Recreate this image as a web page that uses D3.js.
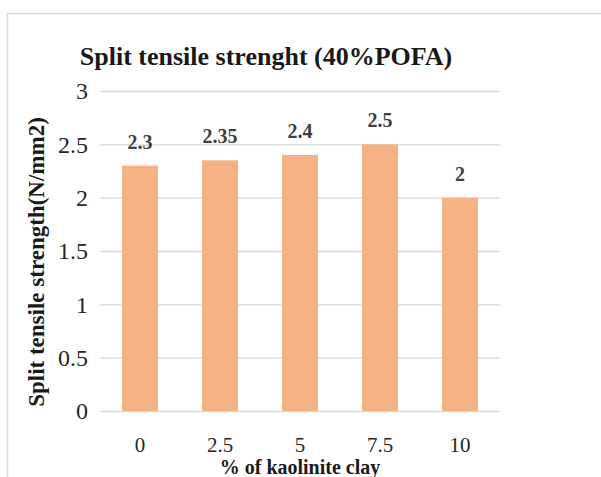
<!DOCTYPE html>
<html><head><meta charset="utf-8">
<script src="https://cdn.jsdelivr.net/npm/d3@7"></script>
<style>body{margin:0;background:#fff}svg{display:block}svg text{font-family:"Liberation Serif","DejaVu Serif",serif !important}</style>
</head><body>
<script>
const categories = ["0","2.5","5","7.5","10"];
const values = [2.3,2.35,2.4,2.5,2];
const yTicks = [0,0.5,1,1.5,2,2.5,3];
const title = "Split tensile strenght (40%POFA)";
const xTitle = "% of kaolinite clay";
const yTitle = "Split tensile strength(N/mm2)";

const W=601,H=477;
const svg = d3.select("body").append("svg").attr("width",W).attr("height",H);
svg.append("path").attr("d",`M7.5,${H} V13.5 H${W}`).attr("fill","none").attr("stroke","#d9d9d9").attr("stroke-width",1.5);

const x = d3.scaleBand().domain(categories).range([100,500]).paddingInner(0.55).paddingOuter(0.275);
const y = d3.scaleLinear().domain([0,3]).range([411,91]);

const ga = svg.append("g").attr("transform","translate(100,0)")
  .call(d3.axisLeft(y).tickValues(yTicks).tickSize(-400).tickFormat(d=>String(d)).tickPadding(12));
ga.select(".domain").remove();
ga.selectAll("line").attr("stroke","#d9d9d9").attr("stroke-width",1.3);
ga.selectAll("text").style("font-size","24px").attr("fill","#262626");

svg.append("g").selectAll("rect").data(values).join("rect")
  .attr("x",(d,i)=>x(categories[i])).attr("width",x.bandwidth())
  .attr("y",d=>y(d)).attr("height",d=>y(0)-y(d)).attr("fill","#F4B183");

svg.append("g").selectAll("text").data(values).join("text")
  .attr("x",(d,i)=>x(categories[i])+x.bandwidth()/2).attr("y",d=>y(d)-17)
  .attr("text-anchor","middle").style("font-weight","bold")
  .style("font-size","20px").attr("fill","#404040").text(d=>String(d));

const gx = svg.append("g").attr("transform","translate(0,411)")
  .call(d3.axisBottom(x).tickSize(0).tickPadding(26));
gx.select(".domain").remove();
gx.selectAll("text").style("font-size","21px").attr("fill","#262626");

svg.append("text").attr("x",266).attr("y",65).attr("text-anchor","middle")
  .style("font-weight","bold").style("font-size","26px").attr("fill","#1a1a1a").text(title);
svg.append("text").attr("x",300).attr("y",474).attr("text-anchor","middle")
  .style("font-weight","bold").style("font-size","20px").attr("fill","#1a1a1a").text(xTitle);
svg.append("text").attr("transform","translate(44,262) rotate(-90)").attr("text-anchor","middle")
  .style("font-weight","bold").style("font-size","23px").attr("fill","#1a1a1a").text(yTitle);
</script>
</body></html>
